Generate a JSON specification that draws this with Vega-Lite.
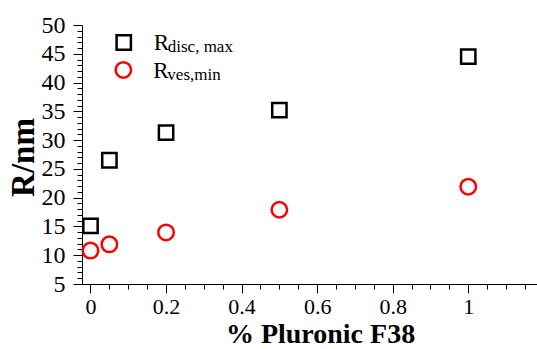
{
  "$schema": "https://vega.github.io/schema/vega-lite/v6.json",
  "width": 455,
  "height": 259,
  "autosize": "none",
  "padding": {"left": 82, "top": 25, "right": 0, "bottom": 65},
  "config": {
    "view": {"stroke": null},
    "font": "Liberation Serif",
    "style": {
      "guide-label": {"font": "Liberation Serif", "fill": "black"},
      "guide-title": {"font": "Liberation Serif", "fill": "black"}
    },
    "axis": {
      "domainColor": "black",
      "tickColor": "black",
      "labelColor": "black",
      "titleColor": "black",
      "grid": false,
      "labelFont": "Liberation Serif",
      "titleFont": "Liberation Serif"
    }
  },
  "datasets": {
    "points": [
      {"pct": 0, "R": 15.1, "series": "disc"},
      {"pct": 0.05, "R": 26.5, "series": "disc"},
      {"pct": 0.2, "R": 31.3, "series": "disc"},
      {"pct": 0.5, "R": 35.2, "series": "disc"},
      {"pct": 1, "R": 44.5, "series": "disc"},
      {"pct": 0, "R": 10.8, "series": "ves"},
      {"pct": 0.05, "R": 11.9, "series": "ves"},
      {"pct": 0.2, "R": 13.96, "series": "ves"},
      {"pct": 0.5, "R": 17.9, "series": "ves"},
      {"pct": 1, "R": 21.9, "series": "ves"}
    ],
    "legend": [
      {"series": "disc", "main": "R", "sub": "disc, max", "lx": 0.088, "ly": 46.96},
      {"series": "ves", "main": "R", "sub": "ves,min", "lx": 0.087, "ly": 42.19}
    ]
  },
  "resolve": {"axis": {"x": "independent", "y": "independent"}},
  "layer": [
    {
      "data": {"name": "points"},
      "mark": {"type": "point", "filled": false, "strokeWidth": 2.5, "opacity": 1},
      "encoding": {
        "x": {
          "field": "pct", "type": "quantitative",
          "scale": {"domain": [-0.0225, 1.182], "nice": false, "zero": false},
          "axis": {
            "orient": "bottom",
            "values": [0, 0.2, 0.4, 0.6, 0.8, 1],
            "labelExpr": "'' + datum.value",
            "tickSize": 9, "labelFontSize": 22, "labelPadding": 3,
            "labelFont": "Liberation Serif",
            "labelFlush": false,
            "title": "% Pluronic F38",
            "titleFont": "Liberation Serif",
            "titleFontSize": 28, "titleFontWeight": "bold",
            "titleX": 238, "titleY": 58, "titleAlign": "center", "titleBaseline": "alphabetic"
          }
        },
        "y": {
          "field": "R", "type": "quantitative",
          "scale": {"domain": [5, 50], "nice": false, "zero": false},
          "axis": {
            "orient": "left",
            "values": [5, 10, 15, 20, 25, 30, 35, 40, 45, 50],
            "tickSize": 9, "labelFontSize": 24, "labelPadding": 8,
            "labelFont": "Liberation Serif",
            "labelFlush": false, "labelBaseline": "middle",
            "title": "R/nm",
            "titleFont": "Liberation Serif",
            "titleFontSize": 33, "titleFontWeight": "bold",
            "titleX": -49, "titleY": 132, "titleAngle": 270,
            "titleAlign": "center", "titleBaseline": "alphabetic"
          }
        },
        "shape": {
          "field": "series", "type": "nominal",
          "scale": {"domain": ["disc", "ves"], "range": ["square", "circle"]},
          "legend": null
        },
        "color": {
          "field": "series", "type": "nominal",
          "scale": {"domain": ["disc", "ves"], "range": ["black", "#ff0000"]},
          "legend": null
        },
        "size": {
          "field": "series", "type": "nominal",
          "scale": {"domain": ["disc", "ves"], "range": [205, 240]},
          "legend": null
        }
      }
    },
    {
      "data": {"name": "points"},
      "mark": {"type": "point", "opacity": 0},
      "encoding": {
        "x": {
          "field": "pct", "type": "quantitative",
          "axis": {
            "orient": "bottom",
            "values": [0.05, 0.1, 0.15, 0.25, 0.3, 0.35, 0.45, 0.5, 0.55, 0.65, 0.7, 0.75, 0.85, 0.9, 0.95, 1.05, 1.1, 1.15],
            "tickSize": 5, "labels": false, "domain": false, "title": null
          }
        },
        "y": {
          "field": "R", "type": "quantitative",
          "axis": {
            "orient": "left",
            "values": [6, 7, 8, 9, 11, 12, 13, 14, 16, 17, 18, 19, 21, 22, 23, 24, 26, 27, 28, 29, 31, 32, 33, 34, 36, 37, 38, 39, 41, 42, 43, 44, 46, 47, 48, 49],
            "tickSize": 5, "labels": false, "domain": false, "title": null
          }
        }
      }
    },
    {
      "data": {"name": "legend"},
      "mark": {"type": "point", "filled": false, "strokeWidth": 2.5, "opacity": 1},
      "encoding": {
        "x": {"field": "lx", "type": "quantitative", "axis": null},
        "y": {"field": "ly", "type": "quantitative", "axis": null},
        "shape": {"field": "series", "type": "nominal", "legend": null},
        "color": {"field": "series", "type": "nominal", "legend": null},
        "size": {"field": "series", "type": "nominal", "legend": null}
      }
    },
    {
      "data": {"name": "legend"},
      "mark": {"type": "text", "align": "left", "baseline": "alphabetic", "dx": 30, "dy": 8, "fontSize": 23, "font": "Liberation Serif", "color": "black"},
      "encoding": {
        "x": {"field": "lx", "type": "quantitative", "axis": null},
        "y": {"field": "ly", "type": "quantitative", "axis": null},
        "text": {"field": "main"}
      }
    },
    {
      "data": {"name": "legend"},
      "mark": {"type": "text", "align": "left", "baseline": "alphabetic", "dx": 44, "dy": 10, "fontSize": 17, "font": "Liberation Serif", "color": "black"},
      "encoding": {
        "x": {"field": "lx", "type": "quantitative", "axis": null},
        "y": {"field": "ly", "type": "quantitative", "axis": null},
        "text": {"field": "sub"}
      }
    }
  ]
}
